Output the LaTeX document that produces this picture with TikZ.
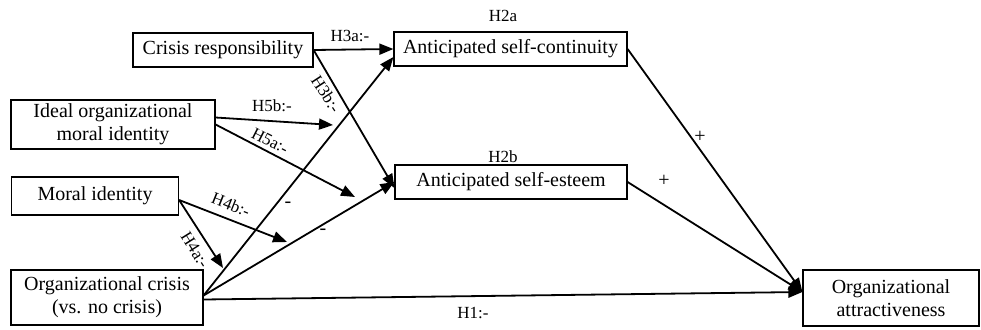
\documentclass[tikz,border=0pt]{standalone}
\usepackage{fontspec}
\setmainfont{Liberation Serif}
\usetikzlibrary{arrows.meta}
\begin{document}
\begin{tikzpicture}[x=1pt,y=-1pt,
  box/.style={draw, line width=1.2pt, inner sep=0pt, align=center,
    font=\fontsize{20}{23}\selectfont},
  conn/.style={line width=1.8pt, -{Triangle[length=14pt,width=11pt]}},
  lbl/.style={font=\fontsize{17}{20}\selectfont, inner sep=0pt},
  sgn/.style={font=\fontsize{20}{22}\selectfont, inner sep=0pt}]
\useasboundingbox (0,0) rectangle (981,329);
% boxes
\node[box, minimum width=180pt, minimum height=34pt] (cr) at (223,50) {Crisis responsibility};
\node[box, minimum width=233pt, minimum height=34pt] (asc) at (510.5,49) {Anticipated self-continuity};
\node[box, minimum width=204pt, minimum height=49pt] (iomi) at (113,124.5) {Ideal organizational\\moral identity};
\node[box, minimum width=232pt, minimum height=34pt] (ase) at (511,182) {Anticipated self-esteem};
\node[box, minimum width=167pt, minimum height=38pt] (mi) at (95,196) {Moral identity};
\node[box, minimum width=192pt, minimum height=55pt] (oc) at (107,297.5) {Organizational crisis\\(vs. no crisis)};
\node[box, minimum width=176pt, minimum height=56pt] (oa) at (891,298) {Organizational\\attractiveness};
% moderation targets
\coordinate (m5b) at (333,125);
\coordinate (m5a) at (355,197);
\coordinate (m4b) at (287,242);
\coordinate (m4a) at (223,268);
% connectors
\draw[conn] (cr.east) -- (asc.west);
\draw[conn] (cr.east) -- ([yshift=-6pt]ase.west);
\draw[conn] ([yshift=7pt]iomi.east) -- (m5b);
\draw[conn] (iomi.east) -- (m5a);
\draw[conn] ([yshift=-4pt]mi.east) -- (m4b);
\draw[conn] ([yshift=-4pt]mi.east) -- (m4a);
\draw[conn] ([yshift=2pt]oc.east) -- ([yshift=-8pt]asc.west);
\draw[conn] ([yshift=2pt]oc.east) -- (ase.west);
\draw[conn] ([yshift=-2pt]oc.east) -- ([yshift=6pt]oa.west);
\draw[conn] (asc.east) -- ([yshift=6pt]oa.west);
\draw[conn] (ase.east) -- ([yshift=6pt]oa.west);
% labels
\node[lbl] (l3a) at (350,36) {H3a:-};
\node[lbl, rotate=-57] (l3b) at (326,94) {H3b:-};
\node[lbl] (l5b) at (272,106) {H5b:-};
\node[lbl, rotate=-27] (l5a) at (270,141) {H5a:-};
\node[lbl, rotate=-22] (l4b) at (231,205) {H4b:-};
\node[lbl, rotate=-58] (l4a) at (195,250) {H4a:-};
\node[lbl] (l1) at (473,313) {H1:-};
\node[lbl] (l2a) at (503,16) {H2a};
\node[lbl] (l2b) at (503,157) {H2b};
\node[sgn] (s1) at (288,205) {-};
\node[sgn] (s2) at (323,232) {-};
\node[sgn] (p1) at (700,137) {+};
\node[sgn] (p2) at (664,181) {+};
\end{tikzpicture}
\end{document}
